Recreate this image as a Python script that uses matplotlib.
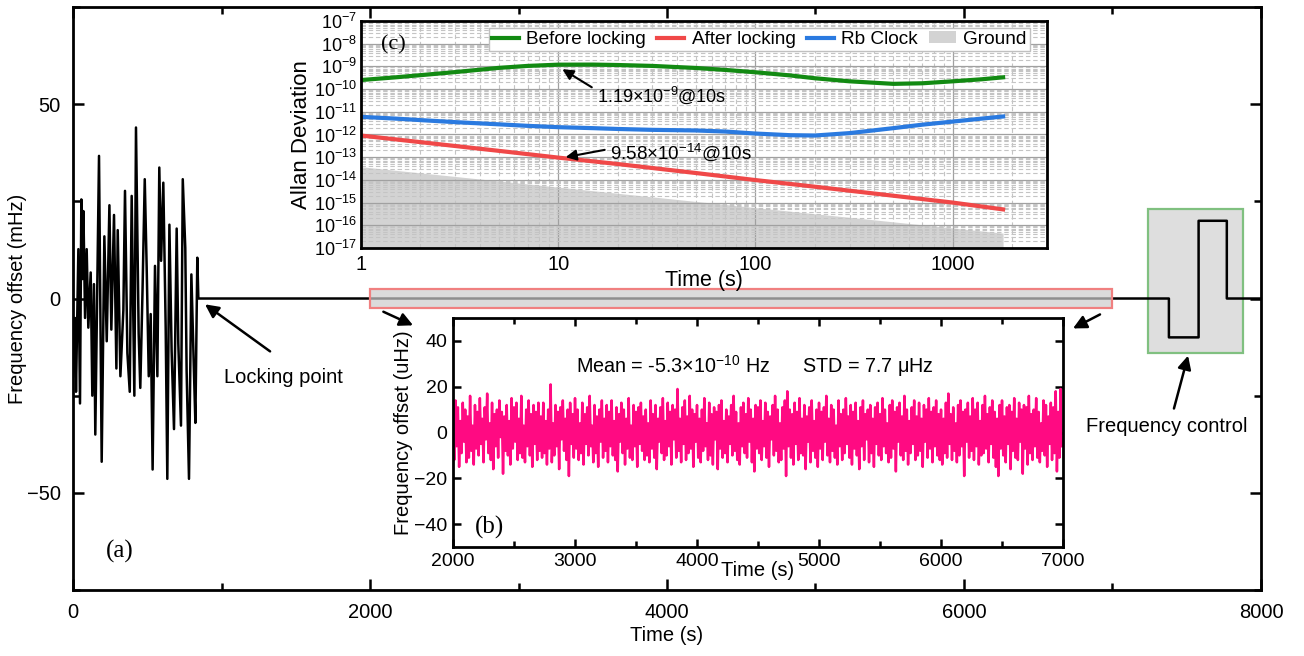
import numpy as np
import matplotlib
matplotlib.use('Agg')
import matplotlib.pyplot as plt
from matplotlib.patches import Rectangle, Patch
from matplotlib.lines import Line2D
from matplotlib.ticker import LogLocator, NullFormatter, MultipleLocator

plt.rcParams['font.family'] = ['Liberation Sans', 'DejaVu Sans']
plt.rcParams['mathtext.fontset'] = 'custom'
plt.rcParams['mathtext.rm'] = 'Liberation Sans'
plt.rcParams['mathtext.it'] = 'Liberation Sans:italic'
plt.rcParams['mathtext.bf'] = 'Liberation Sans:bold'

# ---------------- data: main trace (a) ----------------
t_free = [0, 13, 20, 36, 47, 56, 63, 70, 81, 92, 103, 119, 130, 141, 150, 175, 193, 211,
          227, 245, 258, 276, 292, 301, 319, 339, 350, 366, 382, 395, 413, 424, 442, 453,
          468, 483, 496, 510, 523, 536, 552, 568, 581, 593, 608, 624, 635, 649, 664, 680,
          698, 709, 727, 739, 756, 765, 781, 797, 813, 824, 837, 844]
f_free = [-20, -5, -24, 12.7, -27, 25.5, 5, 22.5, -5, 12.7, -7.5, 6.7, -25, 3.7, -35, 36.7,
          -42, 16, -11, 24, -8, 21.5, -18, 17.6, -20, -3, 27.7, -14, -24, 26.4, -25, 44,
          -9, -23, 2, 30.7, 8, -20, -4, -44, 8.4, -20, 33.7, 9.7, 29.8, -7.5, -46.4, 19,
          -13.5, -33.6, 18, -11.6, -32.7, 30.7, 13, -18.6, -46.4, 6.2, -17, -32, 10.5, 0]
t_ctrl = [844, 7380, 7380, 7580, 7580, 7770, 7770, 8000]
f_ctrl = [0, 0, -10, -10, 20, 20, 0, 0]

# ---------------- data: inset (b) ----------------
b_vals = [
    8, -12, 14, -6, 11, -15, 5, -9, 13, -4, 10, -13, 7, -11, 16, -8, 3, -14, 12, -7, 9, -10, 15, -5, 6,
    -13, 11, -3, 17, -9, 4, -12, 13, -16, 8, -6, 10, -11, 14, -2, 9, -18, 7, -8, 12, -10, 5, -14, 15, -7,
    11, -4, 13, -12, 6, -9, 16, -11, 3, -13, 10, -6, 14, -10, 8, -15, 12, -5, 9, -12, 13, -8, 7, -11, 13,
    -9, 5, -14, 10, -7, 21, -13, 4, -10, 12, -6, 9, -16, 11, -3, 14, -8, 6, -12, 10, -19, 13, -5, 8, -11,
    15, -7, 10, -12, 4, -9, 13, -14, 8, -5, 11, -10, 16, -6, 3, -13, 12, -9, 7, -15, 10, -4, 14, -11, 6,
    -8, 12, -13, 9, -6, 14, -10, 5, -12, 11, -17, 8, -4, 13, -9, 10, -14, 6, -7, 15, -11, 3, -12, 12, -6,
    9, -15, 11, -5, 13, -8, 7, -12, 10, -10, 4, -13, 14, -7, 8, -11, 12, -16, 6, -4, 11, -9, 15, -12, 5,
    -10, 13, -6, 9, -14, 12, -3, 10, -11, 19, -8, 6, -13, 11, -5, 14, -12, 7, -9, 16, -7, 10, -15, 8, -4,
    12, -11, 6, -13, 10, -8, 15, -6, 4, -12, 13, -10, 8, -14, 11, -3, 9, -16, 12, -7, 14, -11, 5, -9, 10,
    -13, 7, -5, 12, -10, 16, -8, 9, -12, 4, -14, 11, -6, 13, -9, 8, -11, 15, -4, 10, -13, 6, -17, 12, -7,
    11, -9, 14, -12, 5, -6, 13, -11, 9, -15, 7, -3, 12, -10, 16, -8, 10, -13, 4, -12, 11, -7, 14, -19, 18,
    -6, 10, -11, 8, -14, 13, -5, 9, -12, 15, -9, 6, -10, 12, -16, 7, -4, 11, -13, 14, -8, 5, -11, 10, -15,
    13, -7, 9, -12, 11, -4, 16, -10, 6, -13, 12, -8, 10, -11, 3, -14, 14, -6, 8, -12, 10, -9, 15, -5, 7,
    -11, 12, -14, 9, -7, 13, -10, 5, -16, 11, -6, 14, -12, 8, -3, 10, -13, 12, -9, 6, -15, 11, -5, 13, -10,
    8, -12, 15, -6, 10, -9, 4, -13, 12, -11, 14, -7, 9, -17, 11, -4, 13, -10, 7, -12, 16, -8, 10, -14, 5,
    -9, 11, -5, 14, -12, 7, -10, 13, -8, 6, -15, 12, -4, 10, -11, 15, -7, 9, -13, 11, -6, 14, -10, 8, -12,
    10, -14, 6, -9, 13, -11, 17, -5, 8, -12, 11, -8, 4, -13, 12, -10, 14, -6, 9, -19, 10, -4, 13, -11, 7,
    -8, 15, -12, 10, -6, 13, -14, 5, -10, 12, -9, 16, -7, 8, -13, 11, -5, 14, -11, 9, -15, 6, -19, 12, -7,
    14, -10, 7, -13, 11, -5, 12, -16, 9, -8, 15, -11, 6, -12, 13, -4, 10, -18, 12, -7, 11, -14, 16, -9, 8,
    -12, 10, -6, 15, -11, 9, -13, 4, -8, 14, -10, 12, -15, 7, -5, 13, -12, 11, -9, 18, -17, 9, -11, 19, -6,
]
b_step = 10.0
b_start = 2000.0

# ---------------- data: inset (c) Allan deviation ----------------
tau = [1, 1.5, 2, 3, 5, 7, 10, 15, 20, 30, 50, 70, 100, 150, 200, 300, 500, 700, 1000, 1400, 1800]
adev_before = [2.5e-10, 3.3e-10, 4.1e-10, 5.6e-10, 8.6e-10, 1.05e-9, 1.19e-9, 1.2e-9, 1.15e-9,
               1.05e-9, 8.5e-10, 7e-10, 5.5e-10, 4e-10, 3e-10, 2.2e-10, 1.7e-10, 1.8e-10,
               2.2e-10, 2.7e-10, 3.3e-10]
adev_rb = [6e-12, 5e-12, 4.3e-12, 3.5e-12, 2.8e-12, 2.4e-12, 2.1e-12, 1.9e-12, 1.75e-12, 1.6e-12,
           1.5e-12, 1.35e-12, 1.1e-12, 9.3e-13, 9e-13, 1.15e-12, 1.9e-12, 2.7e-12, 3.7e-12,
           5e-12, 6.2e-12]
tau_after = [1, 2, 5, 10, 20, 50, 100, 200, 500, 1000, 1800]
adev_after = [9e-13, 4.6e-13, 1.9e-13, 9.58e-14, 5e-14, 2e-14, 9.8e-15, 5e-15, 2e-15, 1e-15, 5e-16]
tau_ground = [1, 10, 100, 1000, 1800]
adev_ground = [3.8e-14, 4.8e-15, 6e-16, 7.6e-17, 4.5e-17]

FS = 14.5

# ---------------- figure ----------------
fig = plt.figure(figsize=(13.04, 6.56), dpi=100)

ax = fig.add_axes([0.056, 0.1006, 0.911, 0.8887])
ax.plot(list(t_free) + list(t_ctrl), list(f_free) + list(f_ctrl), color='k', lw=1.8, zorder=2)
ax.set_xlim(0, 8000)
ax.set_ylim(-75, 75)
ax.set_xticks([0, 2000, 4000, 6000, 8000])
ax.set_yticks([-50, 0, 50])
ax.xaxis.set_minor_locator(MultipleLocator(1000))
ax.yaxis.set_minor_locator(MultipleLocator(25))
ax.tick_params(which='both', direction='in', top=True, right=True, labelsize=FS, width=1.8)
ax.tick_params(which='major', length=8, pad=9)
ax.tick_params(which='minor', length=5)
for s in ax.spines.values():
    s.set_linewidth(2)
ax.set_xlabel('Time (s)', fontsize=FS, labelpad=3)
ax.set_ylabel('Frequency offset (mHz)', fontsize=FS)
ax.yaxis.set_label_coords(-0.0385, 0.5)

ax.add_patch(Rectangle((2000, -2.5), 5000, 5, facecolor=(0.8, 0.8, 0.8, 0.7),
                       edgecolor='#f08080', lw=1.6, zorder=3))
ax.add_patch(Rectangle((7240, -14.1), 640, 37.2, facecolor='#dedede',
                       edgecolor='#80c080', lw=1.6, zorder=1))

arrow = dict(arrowstyle='-|>', color='k', lw=1.8, mutation_scale=20, shrinkA=0, shrinkB=0)
ax.annotate('', xy=(889, -1.5), xytext=(1327, -13.6), arrowprops=arrow)
ax.text(1414, -20.3, 'Locking point', fontsize=FS, ha='center', va='center')
ax.annotate('', xy=(7509, -14.7), xytext=(7414, -28.3), arrowprops=arrow)
ax.text(7367, -32.9, 'Frequency control', fontsize=FS, ha='center', va='center')
ax.annotate('', xy=(2290, -6.9), xytext=(2090, -3.4), arrowprops=arrow)
ax.annotate('', xy=(6734, -7.7), xytext=(6916, -4.1), arrowprops=arrow)
ax.text(316, -65, '(a)', fontsize=18, family='Liberation Serif', ha='center', va='center')

# ---------------- inset (b) ----------------
axb = fig.add_axes([0.3474, 0.1662, 0.4678, 0.349])
tb = b_start + b_step * np.arange(len(b_vals))
axb.plot(tb, b_vals, color='#ff0a82', lw=1.8)
axb.set_xlim(2000, 7000)
axb.set_ylim(-50, 50)
axb.set_xticks([2000, 3000, 4000, 5000, 6000, 7000])
axb.set_yticks([-40, -20, 0, 20, 40])
axb.xaxis.set_minor_locator(MultipleLocator(500))
axb.tick_params(which='both', direction='in', top=True, right=True, labelsize=14, width=1.8)
axb.tick_params(which='major', length=6, pad=4)
axb.tick_params(which='minor', length=4)
for s in axb.spines.values():
    s.set_linewidth(2)
axb.set_xlabel('Time (s)', fontsize=FS, labelpad=-6)
axb.set_ylabel('Frequency offset (uHz)', fontsize=FS, labelpad=1)
axb.text(0.495, 0.79, 'Mean = -5.3×10$^{-10}$ Hz      STD = 7.7 μHz', transform=axb.transAxes,
         fontsize=14.2, ha='center', va='center')
axb.text(0.06, 0.087, '(b)', transform=axb.transAxes, fontsize=18,
         family='Liberation Serif', ha='center', va='center')

# ---------------- inset (c) ----------------
axc = fig.add_axes([0.2768, 0.622, 0.526, 0.346])
axc.set_facecolor('white')
axc.set_xscale('log')
axc.set_yscale('log')
axc.fill_between(tau_ground, 1e-20, adev_ground, color='#d3d3d3', lw=0, zorder=1)
c_green, c_red, c_blue = '#128a12', '#f04848', '#2a7ae0'
axc.plot(tau, adev_before, color=c_green, lw=3, zorder=3)
axc.plot(tau_after, adev_after, color=c_red, lw=3, zorder=3)
axc.plot(tau, adev_rb, color=c_blue, lw=3, zorder=3)
axc.set_xlim(1, 3000)
axc.set_ylim(1e-17, 1e-7)
exps = list(range(-17, -6))
axc.set_yticks([10.0 ** e for e in exps])
axc.set_yticklabels(['$10^{%d}$' % e for e in exps])
axc.yaxis.set_minor_locator(LogLocator(base=10, subs=np.arange(2, 10), numticks=100))
axc.yaxis.set_minor_formatter(NullFormatter())
axc.set_xticks([1, 10, 100, 1000])
axc.set_xticklabels(['1', '10', '100', '1000'])
axc.xaxis.set_minor_locator(LogLocator(base=10, subs=np.arange(2, 10), numticks=100))
axc.xaxis.set_minor_formatter(NullFormatter())
axc.set_axisbelow(False)
axc.grid(True, which='major', color='#a0a0a0', lw=0.9, ls='-')
axc.grid(True, which='minor', color='#c4c4c4', lw=0.8, ls=(0, (4, 2.5)))
axc.tick_params(axis='y', which='both', direction='in', labelsize=13, length=0, pad=3)
axc.tick_params(axis='x', which='both', direction='in', labelsize=14.5, length=0, pad=5)
for s in axc.spines.values():
    s.set_linewidth(2)
    s.set_zorder(4)
axc.set_xlabel('Time (s)', fontsize=15.5, labelpad=-3)
axc.set_ylabel('Allan Deviation', fontsize=16, labelpad=1)
axc.text(0.047, 0.894, '(c)', transform=axc.transAxes, fontsize=16,
         family='Liberation Serif', ha='center', va='center', zorder=6)

handles = [Line2D([], [], color=c_green, lw=3), Line2D([], [], color=c_red, lw=3),
           Line2D([], [], color=c_blue, lw=3), Patch(facecolor='#d3d3d3', edgecolor='none')]
leg = axc.legend(handles, ['Before locking', 'After locking', 'Rb Clock', 'Ground'],
                 loc='upper right', bbox_to_anchor=(0.975, 0.969), borderaxespad=0, ncol=4,
                 fontsize=13.7, handlelength=1.4, handletextpad=0.4, columnspacing=0.6,
                 borderpad=0.15, fancybox=False, edgecolor='#c0c0c0', framealpha=1,
                 handleheight=0.6)
leg.set_zorder(6)

arrow_c = dict(arrowstyle='-|>', color='k', lw=1.5, mutation_scale=16, shrinkA=0, shrinkB=0)
axc.annotate('', xy=(10.5, 7.5e-10), xytext=(14.8, 1.2e-10), arrowprops=arrow_c, zorder=5)
axc.text(15.7, 5.5e-11, '1.19×10$^{-9}$@10s', fontsize=13, ha='left', va='center', zorder=5)
axc.annotate('', xy=(10.9, 1.0e-13), xytext=(17.2, 2.1e-13), arrowprops=arrow_c, zorder=5)
axc.text(18.3, 1.6e-13, '9.58×10$^{-14}$@10s', fontsize=13.5, ha='left', va='center', zorder=5)

fig.savefig('out.png', dpi=100)
